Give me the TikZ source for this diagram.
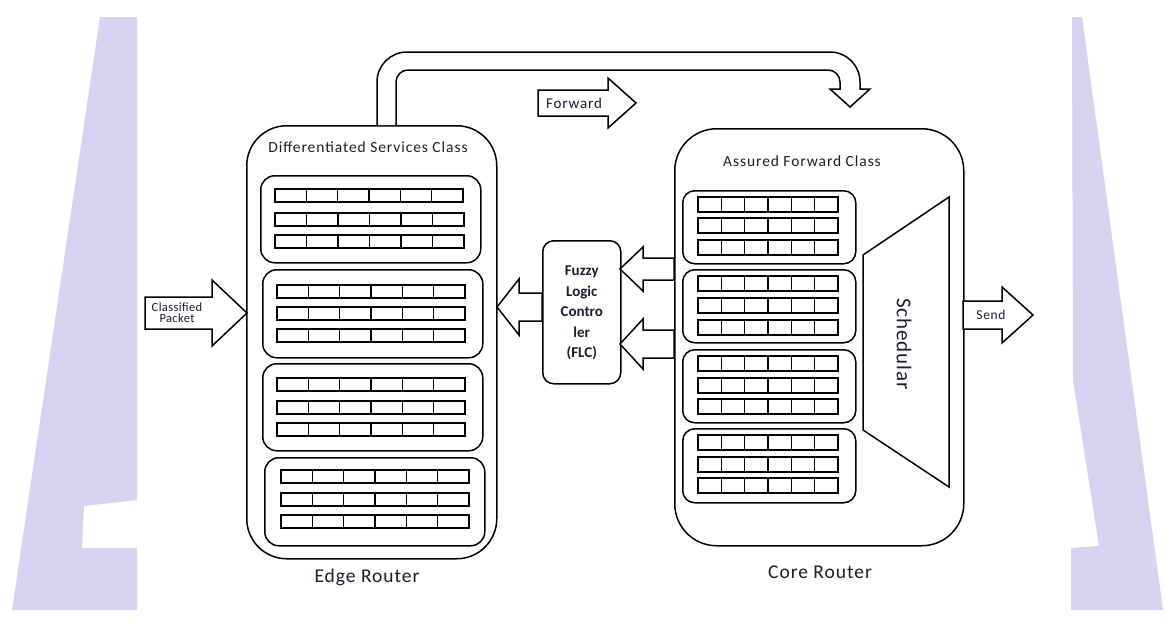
\documentclass[tikz,border=0pt]{standalone}
\usepackage{fontspec}
\setmainfont{Carlito}
\definecolor{wm}{RGB}{213,211,240}
\definecolor{ink}{RGB}{28,28,48}

\tikzset{
  ln/.style={draw=black, line width=1.5pt},
  router/.style={ln, rounded corners=40pt, inner sep=0pt, anchor=north west},
  qbox/.style={ln, rounded corners=14pt, inner sep=0pt, anchor=north west},
  ctrl/.style={ln, rounded corners=11pt, inner sep=0pt, anchor=north west},
  cellrow/.style={draw=black, line width=1.5pt},
  blk/.style={ln, fill=white, line join=miter},
  lbl/.style={text=ink, inner sep=0pt},
}

% font size with a little extra tracking
\newcommand\lblfont[2]{\fontsize{#1}{#1}\selectfont\addfontfeatures{LetterSpace=#2}}

% one queue row: x-left, x-right, y-top, height; six equal cells
\newcommand\qrow[4]{%
  \draw[cellrow] (#1,#3) rectangle (#2,{#3+#4});
  \foreach \k in {1,...,5}
    \draw[cellrow] ({#1+(#2-#1)*\k/6},#3) -- ({#1+(#2-#1)*\k/6},{#3+#4});
}

% straight block arrow: tail x, centre y, head-base x, tip x, body half-width, head half-width
\newcommand\blkarrow[6]{%
  \draw[blk] (#1,{#2-#5}) -- (#3,{#2-#5}) -- (#3,{#2-#6}) -- (#4,#2)
     -- (#3,{#2+#6}) -- (#3,{#2+#5}) -- (#1,{#2+#5}) -- cycle;
}

\begin{document}
\begin{tikzpicture}[x=1pt,y=-1pt]
  \useasboundingbox (0,0) rectangle (1165,622);
  \fill[white] (0,0) rectangle (1165,622);

  % faint lettering behind the page
  \fill[wm] (100,17) -- (137,17) -- (137,500) -- (84,506) -- (82,548)
            -- (137,548) -- (137,610) -- (12,610) -- cycle;
  \fill[wm] (1072,17) -- (1082,17) -- (1163,610) -- (1071,610)
            -- (1071,548) -- (1099,546) -- (1073,380) -- cycle;

  % ---------------- Edge router ----------------
  \node[router, minimum width=250pt, minimum height=433pt] (edge) at (246,125) {};
  \node[lbl, font=\lblfont{15.5}{6}] (dsc) at (368,147) {Differentiated Services Class};
  \node[lbl, font=\lblfont{19.5}{5}] (edgelbl) at (367,577) {Edge Router};

  \node[qbox, minimum width=220pt, minimum height=87pt] (eq1) at (260,175) {};
  \node[qbox, minimum width=220pt, minimum height=88pt] (eq2) at (262,269) {};
  \node[qbox, minimum width=220pt, minimum height=87pt] (eq3) at (262,363) {};
  \node[qbox, minimum width=220pt, minimum height=88pt] (eq4) at (264,457) {};

  \qrow{275}{463}{189}{13} \qrow{275}{464}{213}{13} \qrow{275}{464}{235}{13}
  \qrow{277}{465}{285}{13} \qrow{277}{465}{307}{13} \qrow{277}{465}{329}{13}
  \qrow{277}{465}{378}{13} \qrow{277}{465}{401}{13} \qrow{277}{465}{423}{13}
  \qrow{281}{469}{470}{13} \qrow{281}{469}{493}{13} \qrow{281}{469}{515}{13}

  % ---------------- Core router ----------------
  \node[router, rounded corners=42pt, minimum width=289pt, minimum height=417pt] (core) at (674,128) {};
  \node[lbl, font=\lblfont{15.5}{6}] (afc) at (802,161) {Assured Forward Class};
  \node[lbl, font=\lblfont{19.5}{5}] (corelbl) at (820,572) {Core Router};

  \node[qbox, rounded corners=12pt, minimum width=173pt, minimum height=73pt] (cq1) at (682,190) {};
  \node[qbox, rounded corners=12pt, minimum width=173pt, minimum height=73pt] (cq2) at (682,269) {};
  \node[qbox, rounded corners=12pt, minimum width=173pt, minimum height=73pt] (cq3) at (682,349) {};
  \node[qbox, rounded corners=12pt, minimum width=173pt, minimum height=74pt] (cq4) at (682,428) {};

  \qrow{698}{838}{197}{15} \qrow{698}{838}{218}{15} \qrow{698}{838}{240}{15}
  \qrow{698}{838}{276}{15} \qrow{698}{838}{298}{15} \qrow{698}{838}{320}{15}
  \qrow{698}{838}{356}{15} \qrow{698}{838}{378}{15} \qrow{698}{838}{399}{15}
  \qrow{698}{838}{435}{15} \qrow{698}{838}{457}{15} \qrow{698}{838}{478}{15}

  % scheduler funnel
  \draw[ln, line join=miter] (863,255) -- (949,197) -- (949,487) -- (863,430) -- cycle;
  \node[lbl, rotate=-90, font=\lblfont{21}{4}] (sched) at (904,344) {Schedular};

  % ---------------- Fuzzy logic controller ----------------
  \node[ctrl, minimum width=78pt, minimum height=143pt] (flc) at (542,240) {};
  \node[lbl, font=\bfseries\fontsize{15}{20.5}\selectfont, align=center] (flctext) at ([yshift=-1pt]flc.center)
    {Fuzzy\\Logic\\Contro\\ler\\(FLC)};

  % ---------------- block arrows ----------------
  \blkarrow{145}{313}{212}{247}{16}{33}
  \node[lbl, font=\lblfont{12.5}{3}, align=center] (cpk) at (177,313) {Classified\\[-1.5pt]Packet};

  \blkarrow{538}{103}{608}{636}{13}{25}
  \node[lbl, font=\lblfont{15}{6}] (fwd) at (574,103) {Forward};

  \blkarrow{542}{307}{519}{497}{14}{28}
  \blkarrow{674}{269}{643}{620}{11}{22}
  \blkarrow{674}{344}{643}{620}{14}{25}

  \blkarrow{963}{315}{1002}{1033}{14}{28}
  \node[lbl, font=\lblfont{13.5}{5}] (snd) at (991,315) {Send};

  % bent arrow from the edge router over to the core router
  \draw[blk] (377,125) -- (377,82) .. controls (377,65.4) and (390.4,52) .. (407,52)
    -- (830,52) .. controls (846.6,52) and (860,65.4) .. (860,82)
    -- (860,89) -- (870,89) -- (850,107) -- (830,89) -- (840,89) -- (840,82)
    .. controls (840,75.4) and (834.6,70) .. (828,70)
    -- (408,70) .. controls (401.4,70) and (396,75.4) .. (396,82) -- (396,125);
\end{tikzpicture}
\end{document}
